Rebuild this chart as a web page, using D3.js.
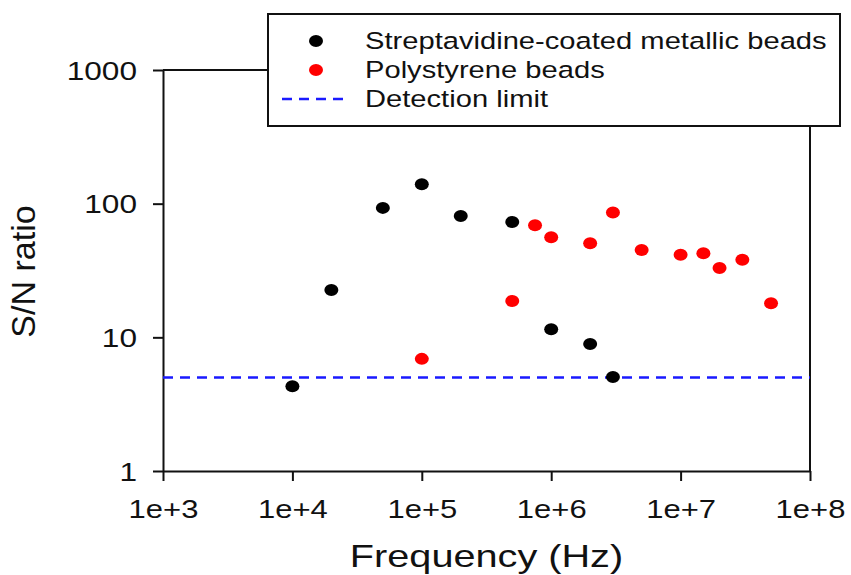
<!DOCTYPE html>
<html>
<head>
<meta charset="utf-8">
<script src="https://cdn.jsdelivr.net/npm/d3@7/dist/d3.min.js"></script>
<style>
  html, body { margin: 0; padding: 0; background: #fff; }
  svg { display: block; font-family: "Liberation Sans", Arial, Helvetica, sans-serif; }
</style>
</head>
<body>
<svg id="chart" width="851" height="575"></svg>
<script>
// Signal-to-noise ratio vs excitation frequency
const metallicFreq = [1e4, 2e4, 5e4, 1e5, 2e5, 5e5, 1e6, 2e6, 3e6];
const metallicSN   = [4.3, 22.6, 93, 140, 81, 73, 11.5, 8.9, 5.05];

const polyFreq = [1e5, 5e5, 7.5e5, 1e6, 2e6, 3e6, 5e6, 1e7, 1.5e7, 2e7, 3e7, 5e7];
const polySN   = [6.9, 18.7, 69, 56, 50.5, 86, 45, 41.5, 42.5, 33, 38, 18];

const detectionLimit = 5;

const xTicks = [1e3, 1e4, 1e5, 1e6, 1e7, 1e8];
const yTicks = [1, 10, 100, 1000];

const legendLabels = ["Streptavidine-coated metallic beads", "Polystyrene beads", "Detection limit"];

const STRETCH = 1.24;   // horizontal text stretch
const svg = d3.select("#chart");

const plot = { left: 163, right: 810, top: 70, bottom: 471 };

const x = d3.scaleLog().domain([1e3, 1e8]).range([plot.left, plot.right]);
const y = d3.scaleLog().domain([1, 1000]).range([plot.bottom, plot.top]);

// frame (top and right edges)
const frame = svg.append("g").attr("stroke", "#111").attr("stroke-width", 2).attr("fill", "none");
frame.append("line").attr("x1", plot.left).attr("x2", plot.right).attr("y1", plot.top).attr("y2", plot.top);
frame.append("line").attr("x1", plot.right).attr("x2", plot.right).attr("y1", plot.top).attr("y2", plot.bottom);

// bottom axis
const xAxis = svg.append("g")
  .attr("transform", `translate(0,${plot.bottom})`)
  .call(d3.axisBottom(x).tickValues(xTicks).tickSize(10).tickSizeOuter(0)
    .tickFormat(d => "1e+" + Math.round(Math.log10(d))));
xAxis.select(".domain").attr("stroke", "#111").attr("stroke-width", 2);
xAxis.selectAll(".tick line").attr("stroke", "#111").attr("stroke-width", 2);
xAxis.selectAll(".tick text")
  .attr("fill", "#111")
  .attr("font-size", 25)
  .attr("y", 0).attr("dy", 0)
  .attr("transform", `translate(0,47) scale(${STRETCH},1)`);

// left axis
const yAxis = svg.append("g")
  .attr("transform", `translate(${plot.left},0)`)
  .call(d3.axisLeft(y).tickValues(yTicks).tickSize(10).tickSizeOuter(0)
    .tickFormat(d3.format("d")));
yAxis.select(".domain").attr("stroke", "#111").attr("stroke-width", 2);
yAxis.selectAll(".tick line").attr("stroke", "#111").attr("stroke-width", 2);
yAxis.selectAll(".tick text")
  .attr("fill", "#111")
  .attr("font-size", 25.5)
  .attr("x", 0).attr("dy", "0.36em")
  .attr("transform", `translate(-26,0) scale(${STRETCH},1)`);

// axis titles
svg.append("text")
  .attr("transform", `translate(${(plot.left + plot.right) / 2},567) scale(${STRETCH},1)`)
  .attr("text-anchor", "middle")
  .attr("font-size", 32)
  .attr("fill", "#111")
  .text("Frequency (Hz)");

svg.append("text")
  .attr("transform", `translate(35,${(plot.top + plot.bottom) / 2 + 1}) rotate(-90)`)
  .attr("text-anchor", "middle")
  .attr("font-size", 34)
  .attr("fill", "#111")
  .text("S/N ratio");

// detection limit
svg.append("line")
  .attr("x1", x(1e3)).attr("x2", x(1e8))
  .attr("y1", y(detectionLimit)).attr("y2", y(detectionLimit))
  .attr("stroke", "#1a1aff").attr("stroke-width", 2.6)
  .attr("stroke-dasharray", "10,7");

// points
const markRx = 7, markRy = 6;
function drawPoints(freq, vals, color) {
  svg.append("g").selectAll("ellipse")
    .data(freq.map((f, i) => ({ f, v: vals[i] })))
    .join("ellipse")
    .attr("cx", d => x(d.f))
    .attr("cy", d => y(d.v))
    .attr("rx", markRx).attr("ry", markRy)
    .attr("fill", color);
}
drawPoints(metallicFreq, metallicSN, "#000");
drawPoints(polyFreq, polySN, "#ff0000");

// legend
const lg = svg.append("g");
lg.append("rect")
  .attr("x", 268).attr("y", 14).attr("width", 572).attr("height", 112)
  .attr("fill", "#fff").attr("stroke", "#111").attr("stroke-width", 2);

const rows = [41, 70, 99];
lg.append("ellipse").attr("cx", 316).attr("cy", rows[0]).attr("rx", markRx).attr("ry", markRy).attr("fill", "#000");
lg.append("ellipse").attr("cx", 316).attr("cy", rows[1]).attr("rx", markRx).attr("ry", markRy).attr("fill", "#ff0000");
lg.append("line")
  .attr("x1", 282).attr("x2", 349).attr("y1", rows[2]).attr("y2", rows[2])
  .attr("stroke", "#1a1aff").attr("stroke-width", 2.6)
  .attr("stroke-dasharray", "10,7");

lg.selectAll("text.lbl")
  .data(legendLabels)
  .join("text")
  .attr("class", "lbl")
  .attr("transform", (d, i) => `translate(365,${rows[i] + 8}) scale(${STRETCH},1)`)
  .attr("font-size", 23.5)
  .attr("fill", "#111")
  .text(d => d);
</script>
</body>
</html>
